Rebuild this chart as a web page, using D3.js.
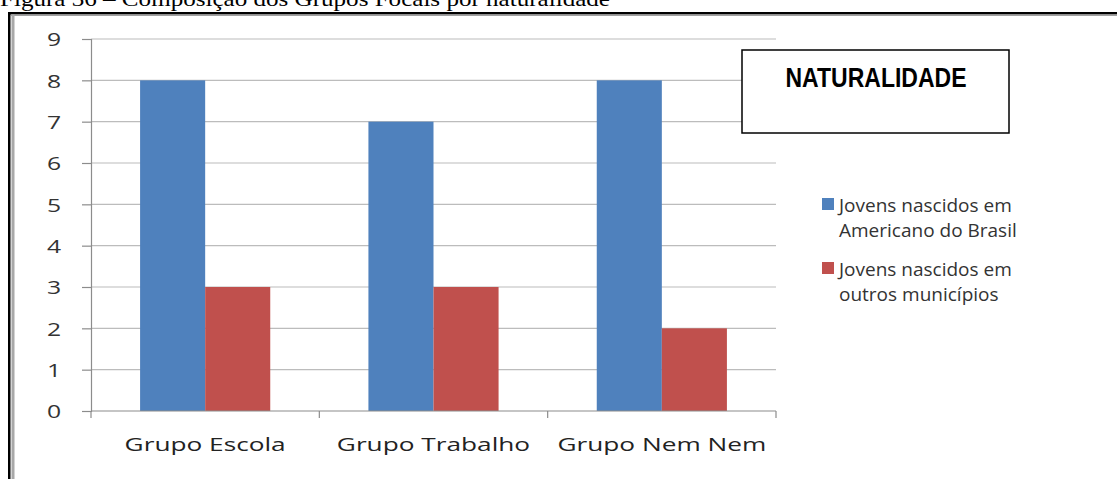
<!DOCTYPE html>
<html>
<head>
<meta charset="utf-8">
<script src="https://cdn.jsdelivr.net/npm/d3@7"></script>
<style>
  html, body { margin: 0; padding: 0; background: #fff; }
  svg { display: block; }
</style>
</head>
<body>
<div id="chart"></div>
<script>
// Focus-group composition by place of birth
const categories = ["Grupo Escola", "Grupo Trabalho", "Grupo Nem Nem"];
const seriesNames = ["Jovens nascidos em Americano do Brasil", "Jovens nascidos em outros municípios"];
const legendLines = [["Jovens nascidos em", "Americano do Brasil"], ["Jovens nascidos em", "outros municípios"]];
const bornLocal = [8, 7, 8];
const bornElsewhere = [3, 3, 2];
const yTicks = [0, 1, 2, 3, 4, 5, 6, 7, 8, 9];
const colors = ["#4F81BD", "#C0504D"];

const W = 1117, H = 479;
const SANS = "'Open Sans', 'DejaVu Sans', sans-serif";
const svg = d3.select("#chart").append("svg").attr("width", W).attr("height", H);

// widen a text horizontally by a constant factor
function widen(sel, k) {
  sel.each(function () {
    const w = this.getComputedTextLength();
    d3.select(this).attr("textLength", w * k).attr("lengthAdjust", "spacingAndGlyphs");
  });
}

// Caption above the frame (partly cut off by the top edge)
svg.append("text")
  .attr("x", 0).attr("y", 6)
  .attr("font-family", "'Liberation Serif', 'Times New Roman', serif")
  .attr("font-size", 22)
  .attr("textLength", 610).attr("lengthAdjust", "spacingAndGlyphs")
  .attr("fill", "#000")
  .text("Figura 36 – Composição dos Grupos Focais por naturalidade");

// Frame: double line on top and left
svg.append("rect").attr("x", 8).attr("y", 12).attr("width", W - 8).attr("height", 2.5).attr("fill", "#000");
svg.append("rect").attr("x", 11).attr("y", 14.5).attr("width", W - 11).attr("height", 1.5).attr("fill", "#a0a0a0");
svg.append("rect").attr("x", 8).attr("y", 12).attr("width", 2.5).attr("height", H - 12).attr("fill", "#000");
svg.append("rect").attr("x", 11.5).attr("y", 14.5).attr("width", 3).attr("height", H - 14.5).attr("fill", "#a8a8a8");

const plot = { left: 91, right: 776, top: 39, bottom: 411 };

const x = d3.scaleBand().domain(categories)
  .range([plot.left, plot.right])
  .paddingInner(0.43).paddingOuter(0.215);
const xSub = d3.scaleBand().domain([0, 1]).range([0, x.bandwidth()]);
const y = d3.scaleLinear().domain([0, 9]).range([plot.bottom, plot.top]);

// Horizontal gridlines
svg.append("g").selectAll("line").data(yTicks.filter(d => d > 0)).join("line")
  .attr("x1", plot.left).attr("x2", plot.right)
  .attr("y1", d => y(d)).attr("y2", d => y(d))
  .attr("stroke", "#bcbcbc").attr("stroke-width", 1.2);

// Bars
const series = [bornLocal, bornElsewhere];
series.forEach((vals, si) => {
  svg.append("g").selectAll("rect").data(categories).join("rect")
    .attr("x", (c) => x(c) + xSub(si))
    .attr("width", xSub.bandwidth())
    .attr("y", (c, i) => y(vals[i]))
    .attr("height", (c, i) => y(0) - y(vals[i]))
    .attr("fill", colors[si]);
});

// Y axis
const yAxis = svg.append("g").attr("transform", `translate(${plot.left},0)`)
  .call(d3.axisLeft(y).tickValues(yTicks).tickSize(9).tickPadding(0).tickFormat(d3.format("d")));
yAxis.select(".domain").attr("stroke", "#8c8c8c").attr("stroke-width", 1.2);
yAxis.selectAll(".tick line").attr("stroke", "#8c8c8c").attr("stroke-width", 1.2);
yAxis.selectAll("text")
  .attr("font-family", SANS)
  .attr("font-size", 19).attr("fill", "#333")
  .attr("text-anchor", "middle").attr("x", -37).attr("dy", "0.36em")
  .call(widen, 1.3);

// X axis with boundary ticks between categories
const xAxisG = svg.append("g").attr("transform", `translate(0,${plot.bottom})`);
xAxisG.append("line").attr("x1", plot.left).attr("x2", plot.right)
  .attr("y1", 0).attr("y2", 0).attr("stroke", "#8c8c8c").attr("stroke-width", 1.2);
const step = x.step();
const boundaries = d3.range(categories.length + 1).map(i => plot.left + i * step);
xAxisG.selectAll(".bt").data(boundaries).join("line")
  .attr("x1", d => d).attr("x2", d => d).attr("y1", 0).attr("y2", 7)
  .attr("stroke", "#8c8c8c").attr("stroke-width", 1.2);
xAxisG.selectAll("text").data(categories).join("text")
  .attr("x", c => x(c) + x.bandwidth() / 2)
  .attr("y", 40)
  .attr("text-anchor", "middle")
  .attr("font-family", SANS)
  .attr("font-size", 19).attr("fill", "#222")
  .text(c => c)
  .call(widen, 1.38);

// Title box
svg.append("rect").attr("x", 742).attr("y", 50).attr("width", 267).attr("height", 83)
  .attr("fill", "#fff").attr("stroke", "#000").attr("stroke-width", 1.5);
svg.append("text").attr("x", 876).attr("y", 87)
  .attr("text-anchor", "middle")
  .attr("font-family", "'Liberation Sans Narrow', 'Liberation Sans', Arial, sans-serif")
  .attr("font-weight", "bold").attr("font-size", 27)
  .attr("textLength", 181).attr("lengthAdjust", "spacingAndGlyphs")
  .attr("fill", "#000")
  .text("NATURALIDADE");

// Legend
const legend = svg.append("g");
const legendTop = [198, 262];
seriesNames.forEach((name, i) => {
  legend.append("rect").attr("x", 822).attr("y", legendTop[i])
    .attr("width", 12).attr("height", 12).attr("fill", colors[i]);
  legendLines[i].forEach((line, li) => {
    legend.append("text")
      .attr("font-family", SANS)
      .attr("font-size", 19).attr("fill", "#333")
      .attr("x", 839).attr("y", legendTop[i] + 14 + li * 24.5)
      .text(line);
  });
});
</script>
</body>
</html>
